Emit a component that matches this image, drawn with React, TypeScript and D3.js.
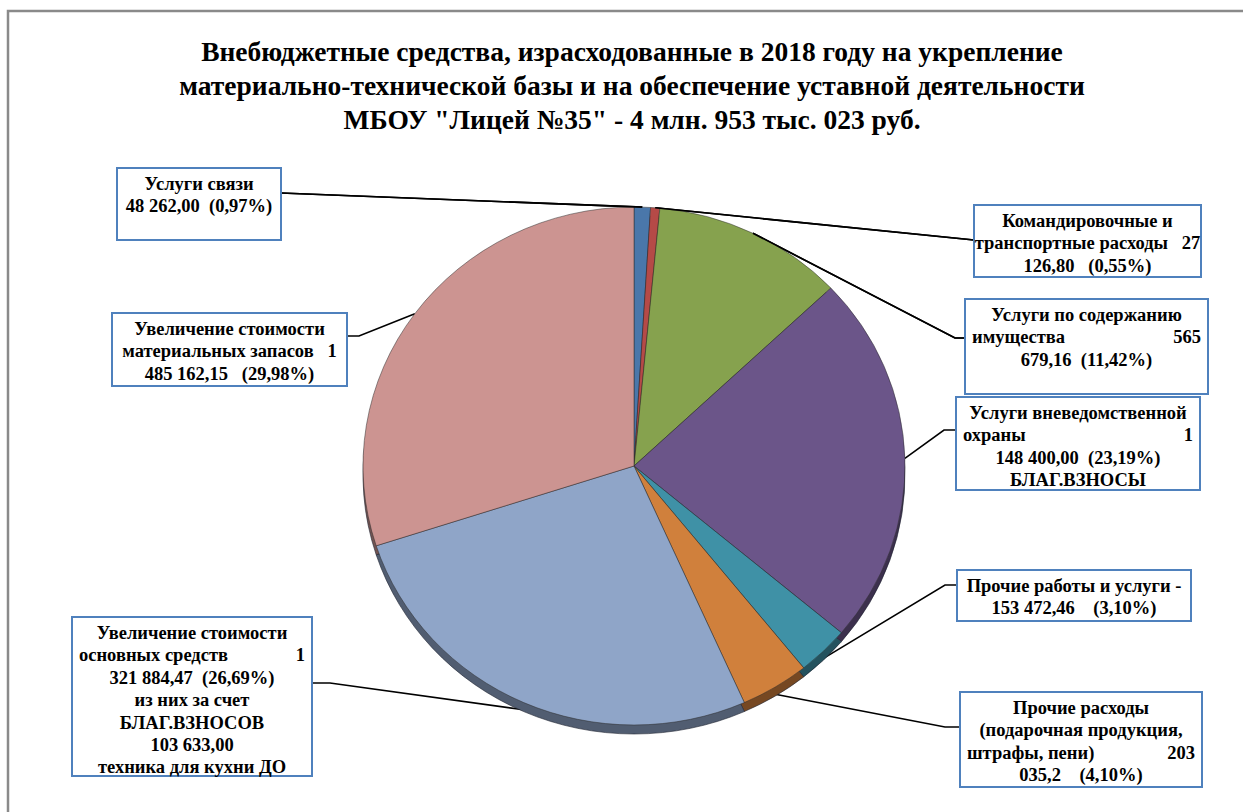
import { useMemo } from 'react';
import * as d3 from 'd3';

// ── Data ──
const CATEGORIES = [
  'Услуги связи',
  'Командировочные и транспортные расходы',
  'Услуги по содержанию имущества',
  'Услуги вневедомственной охраны',
  'Прочие работы и услуги',
  'Прочие расходы',
  'Увеличение стоимости основных средств',
  'Увеличение стоимости материальных запасов',
];
const VALUES = [48262.0, 27126.8, 565679.16, 1148400.0, 153472.46, 203035.2, 1321884.47, 1485162.15];
const COLORS = ['#4a77aa', '#b54a47', '#86a24e', '#6b5589', '#3f91a6', '#d0803c', '#8fa5c8', '#cc9491'];

// label text: a string is a centred line, a pair is a justified line
type Line = string | [string, string];
const LABEL_LINES: Line[][] = [
  ['Услуги связи', '48 262,00  (0,97%)'],
  ['Командировочные и', 'транспортные расходы   27', '126,80   (0,55%)'],
  ['Услуги по содержанию', ['имущества', '565'], '679,16  (11,42%)'],
  ['Услуги вневедомственной', ['охраны', '1'], '148 400,00  (23,19%)', 'БЛАГ.ВЗНОСЫ'],
  ['Прочие работы и услуги -', '153 472,46    (3,10%)'],
  ['Прочие расходы', '(подарочная продукция,', ['штрафы, пени)', '203'], '035,2    (4,10%)'],
  ['Увеличение стоимости', ['основных средств', '1'], '321 884,47  (26,69%)', 'из них за счет', 'БЛАГ.ВЗНОСОВ', '103 633,00', 'техника для кухни ДО'],
  ['Увеличение стоимости', 'материальных запасов   1', '485 162,15   (29,98%)'],
];

const TITLE = [
  'Внебюджетные средства, израсходованные в 2018 году на укрепление',
  'материально-технической базы и на обеспечение уставной деятельности',
  'МБОУ "Лицей №35" - 4 млн. 953 тыс. 023 руб.',
];

// ── Layout ──
const W = 1243;
const H = 812;
const CX = 634;
const CY = 466;
const RX = 271;
const RY = 259;
const DEPTH = 9;
const FONT = "'Liberation Serif', 'Times New Roman', serif";
const LABEL_SIZE = 18.5;
const LINE_H = 22.4;

// label boxes: x, y, w, h, leader y, side the leader arrives on, elbow stub
const BOXES = [
  { x: 117, y: 168, w: 164, h: 72, ly: 193, side: 'right', stub: 0 },
  { x: 974, y: 205, w: 227, h: 72, ly: 240, side: 'left', stub: 0 },
  { x: 965, y: 299, w: 243, h: 95, ly: 338, side: 'left', stub: 10 },
  { x: 956, y: 397, w: 244, h: 93, ly: 430, side: 'left', stub: 12 },
  { x: 957, y: 570, w: 234, h: 51, ly: 585, side: 'left', stub: 12 },
  { x: 960, y: 692, w: 242, h: 95, ly: 727, side: 'left', stub: 15 },
  { x: 72, y: 617, w: 240, h: 159, ly: 683, side: 'right', stub: 18 },
  { x: 112, y: 313, w: 235, h: 73, ly: 336, side: 'right', stub: 12 },
];

export default function App() {
  const arcs = useMemo(
    () => d3.pie<number>().sort(null).startAngle(0).endAngle(2 * Math.PI)(VALUES),
    [],
  );
  const arcGen = d3.arc<d3.PieArcDatum<number>>().innerRadius(0).outerRadius(RY);
  const sx = RX / RY;

  const anchor = (a: d3.PieArcDatum<number>) => {
    const m = (a.startAngle + a.endAngle) / 2;
    const x = CX + RX * Math.sin(m);
    const y = CY - RY * Math.cos(m);
    return [x, y + (Math.cos(m) < -0.5 ? DEPTH * 0.8 : 0)];
  };

  const leader = (a: d3.PieArcDatum<number>, i: number) => {
    const b = BOXES[i];
    const [ax, ay] = anchor(a);
    const edgeX = b.side === 'left' ? b.x : b.x + b.w;
    const elbowX = b.side === 'left' ? edgeX - b.stub : edgeX + b.stub;
    return `M${ax},${ay}L${elbowX},${b.ly}L${edgeX},${b.ly}`;
  };

  return (
    <svg width={W} height={H} style={{ position: 'absolute', left: 0, top: 0, background: '#fff' }}>
      {/* frame */}
      <rect x={8} y={11} width={W + 20} height={H + 20} fill="none" stroke="#8a8a8a" strokeWidth={2.5} />

      {/* title */}
      {TITLE.map((t, i) => (
        <text key={i} x={632} y={61 + i * 34} textAnchor="middle" fontFamily={FONT} fontWeight="bold" fontSize={27.5} fill="#000">
          {t}
        </text>
      ))}

      {/* leader lines (behind pie) */}
      {arcs.map((a, i) => (
        <path key={i} d={leader(a, i)} fill="none" stroke="#000" strokeWidth={1.6} />
      ))}

      {/* pie side (depth) */}
      <g transform={`translate(${CX},${CY + DEPTH}) scale(${sx},1)`}>
        {arcs.map((a, i) => (
          <path
            key={i}
            d={arcGen(a) ?? ''}
            fill={d3.color(COLORS[i])!.darker(1.6).formatHex()}
            stroke="#1e2430"
            strokeWidth={0.6}
            vectorEffect="non-scaling-stroke"
          />
        ))}
      </g>

      {/* pie top */}
      <g transform={`translate(${CX},${CY}) scale(${sx},1)`}>
        {arcs.map((a, i) => (
          <path
            key={i}
            d={arcGen(a) ?? ''}
            fill={COLORS[i]}
            stroke="#2a2a2a"
            strokeOpacity={0.7}
            strokeWidth={0.7}
            vectorEffect="non-scaling-stroke"
          >
            <title>{CATEGORIES[i]}</title>
          </path>
        ))}
      </g>

      {/* leader lines that sit over the pie's top edge */}
      {arcs.slice(0, 3).map((a, i) => (
        <path key={i} d={leader(a, i)} fill="none" stroke="#000" strokeWidth={1.6} />
      ))}

      {/* label boxes */}
      {BOXES.map((b, i) => {
        const lines = LABEL_LINES[i];
        const top = b.y + 22;
        const pad = 7;
        return (
          <g key={i}>
            <rect x={b.x} y={b.y} width={b.w} height={b.h} fill="#fff" stroke="#4f81bd" strokeWidth={2} />
            {lines.map((ln, j) => {
              const y = top + j * LINE_H;
              const common = { fontFamily: FONT, fontWeight: 'bold' as const, fontSize: LABEL_SIZE, fill: '#000' };
              if (typeof ln === 'string') {
                return (
                  <text key={j} x={b.x + b.w / 2} y={y} textAnchor="middle" {...common} style={{ whiteSpace: 'pre' }}>
                    {ln}
                  </text>
                );
              }
              return (
                <g key={j}>
                  <text x={b.x + pad} y={y} {...common}>{ln[0]}</text>
                  <text x={b.x + b.w - pad} y={y} textAnchor="end" {...common}>{ln[1]}</text>
                </g>
              );
            })}
          </g>
        );
      })}
    </svg>
  );
}
